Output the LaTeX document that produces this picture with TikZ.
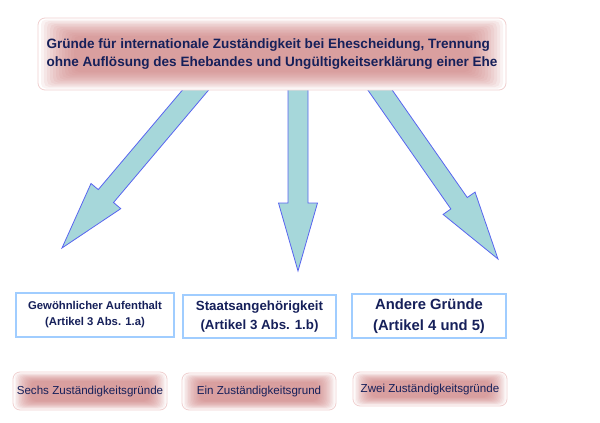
\documentclass[tikz,border=0pt]{standalone}
\usepackage{fontspec}
\setmainfont{Liberation Sans}
\usetikzlibrary{calc,backgrounds}

\definecolor{navytext}{RGB}{22,32,90}
\definecolor{glowpink}{RGB}{208,128,128}
\definecolor{glowrim}{RGB}{240,208,208}
\definecolor{frameblue}{RGB}{160,205,255}
\definecolor{arrowfill}{RGB}{166,215,218}
\definecolor{arrowline}{RGB}{88,100,240}

\tikzset{
	glowbox/.style={draw=glowrim, line width=0.8pt, fill=white, rounded corners=7pt, text=navytext, inner sep=0pt,
		path picture={\foreach \i in {1,...,12}
			\fill[glowpink, opacity=0.1, rounded corners=5pt] ([shift={(\i*#1pt,-\i*#1pt/2)}]path picture bounding box.north west) rectangle ([shift={(-\i*#1pt,\i*#1pt/2)}]path picture bounding box.south east);}},
	glowbox/.default=1.5,
	framebox/.style={draw=frameblue, line width=2pt, fill=white, text=navytext, align=center, inner sep=0pt},
	bigarrow/.style={fill=arrowfill, draw=arrowline, line width=0.8pt, line join=miter}
}

\newcommand{\blockarrow}[2]{%
	\path ($(#2)!68pt!(#1)$) coordinate (head base);
	\filldraw[bigarrow] ($(#1)!10pt!90:(head base)$) -- ($(head base)!10pt!-90:(#1)$) -- ($(head base)!19.5pt!-90:(#1)$) -- (#2) -- ($(head base)!19.5pt!90:(#1)$) -- ($(head base)!10pt!90:(#1)$) -- ($(#1)!10pt!-90:(head base)$) -- cycle;}

\begin{document}
\begin{tikzpicture}[x=1pt, y=-1pt]
	\useasboundingbox (0, 0) rectangle (600, 423);
	\node[glowbox=3, minimum width=468pt, minimum height=72pt, align=left, font=\fontsize{13.55}{18}\selectfont\bfseries] (Gruende) at (272, 54) {Gründe für internationale Zuständigkeit bei Ehescheidung, Trennung\\ohne Auflösung des Ehebandes und Ungültigkeitserklärung einer Ehe};
	\node[framebox, minimum width=158pt, minimum height=44pt, font=\fontsize{11.3}{16}\selectfont\bfseries] (Aufenthalt) at (95, 315) {Gewöhnlicher Aufenthalt\\(Artikel 3 Abs. 1.a)};
	\node[framebox, minimum width=153pt, minimum height=43pt, font=\fontsize{13.3}{19}\selectfont\bfseries] (Staatsangehoerigkeit) at (259.5, 316.5) {Staatsangehörigkeit\\(Artikel 3 Abs. 1.b)};
	\node[framebox, minimum width=154pt, minimum height=44pt, font=\fontsize{14.8}{21}\selectfont\bfseries] (Andere Gruende) at (429, 316) {Andere Gründe\\(Artikel 4 und 5)};
	\node[glowbox, minimum width=154pt, minimum height=38pt, font=\fontsize{11.6}{14}\selectfont] (Sechs) at (90, 391) {Sechs Zuständigkeitsgründe};
	\node[glowbox, minimum width=154pt, minimum height=37pt, font=\fontsize{11.6}{14}\selectfont] (Ein) at (259, 391.5) {Ein Zuständigkeitsgrund};
	\node[glowbox, minimum width=154pt, minimum height=34pt, font=\fontsize{11.6}{14}\selectfont] (Zwei) at (430, 389) {Zwei Zuständigkeitsgründe};
	\coordinate (Start Aufenthalt) at (204, 80);
	\coordinate (Start Staatsangehoerigkeit) at (298, 80);
	\coordinate (Start Andere) at (373, 80);
	\coordinate (Spitze Aufenthalt) at (62, 248);
	\coordinate (Spitze Staatsangehoerigkeit) at (298, 271);
	\coordinate (Spitze Andere) at (498, 259);
	\begin{pgfonlayer}{background}
		\blockarrow{Start Aufenthalt}{Spitze Aufenthalt}
		\blockarrow{Start Staatsangehoerigkeit}{Spitze Staatsangehoerigkeit}
		\blockarrow{Start Andere}{Spitze Andere}
	\end{pgfonlayer}
\end{tikzpicture}
\end{document}
